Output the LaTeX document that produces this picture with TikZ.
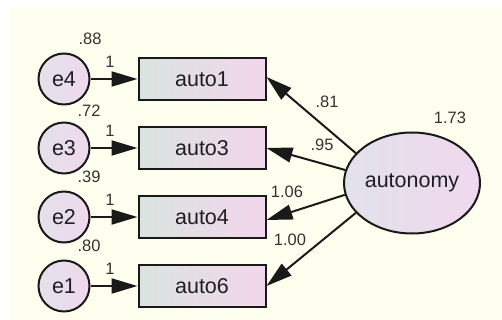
\documentclass[tikz,border=0pt]{standalone}
\usepackage{fontspec}
\setmainfont{Liberation Sans}
\usetikzlibrary{arrows.meta,shapes.geometric}
\definecolor{bgcream}{HTML}{FFFFF0}
\definecolor{boxleft}{HTML}{DAE4DF}
\definecolor{boxright}{HTML}{F2D6EC}
\definecolor{elleft}{HTML}{E2E2EA}
\definecolor{elright}{HTML}{F0D8EE}
\definecolor{txt}{HTML}{1E1E24}
\definecolor{lbl}{HTML}{333333}
\tikzset{
  obsbox/.style={draw=black!90, line width=2pt, left color=boxleft, right color=boxright,
    minimum width=127pt, minimum height=42pt, inner sep=0pt, font=\fontsize{21.5}{23}\selectfont, text=txt},
  errc/.style={circle, draw=black!90, line width=2pt, left color=elleft, right color=elright,
    minimum size=51pt, inner sep=0pt, font=\fontsize{21.5}{23}\selectfont, text=txt},
  latent/.style={ellipse, draw=black!90, line width=2pt, left color=elleft, right color=elright,
    minimum width=136pt, minimum height=101pt, inner sep=0pt, font=\fontsize{21.5}{23}\selectfont, text=txt},
  pathline/.style={draw=black!90, line width=2pt, -{Triangle[length=26pt,width=15pt]}},
  lab/.style={font=\fontsize{16.5}{18}\selectfont, text=lbl, inner sep=0pt}
}
\begin{document}
\begin{tikzpicture}[x=1pt,y=-1pt]
\useasboundingbox (0,0) rectangle (502,320);
\fill[white] (0,0) rectangle (502,320);
\fill[bgcream] (10,7) rectangle (502,320);

\node[obsbox] (a1) at (202,79) {auto1};
\node[obsbox] (a3) at (202,148) {auto3};
\node[obsbox] (a4) at (202,217) {auto4};
\node[obsbox] (a6) at (202,286) {auto6};

\node[errc] (e4) at (64,79) {e4};
\node[errc] (e3) at (64,148) {e3};
\node[errc] (e2) at (64,217) {e2};
\node[errc] (e1) at (64,286) {e1};

\node[latent] (au) at (412,183) {autonomy};

\draw[pathline] (e4.east) -- (a1.west);
\draw[pathline] (e3.east) -- (a3.west);
\draw[pathline] (e2.east) -- (a4.west);
\draw[pathline] (e1.east) -- (a6.west);

\draw[pathline] (au.152) -- ([yshift=2pt]a1.east);
\draw[pathline] (au.169) -- (a3.east);
\draw[pathline] (au.190) -- ([yshift=-3pt]a4.east);
\draw[pathline] (au.208) -- (a6.east);

\node[lab] (v4) at (90,39) {.88};
\node[lab] (v3) at (89,111) {.72};
\node[lab] (v2) at (89,177) {.39};
\node[lab] (v1) at (89,246) {.80};
\node[lab] (w4) at (110,62) {1};
\node[lab] (w3) at (110,131) {1};
\node[lab] (w2) at (110,200) {1};
\node[lab] (w1) at (110,269) {1};
\node[lab] (r1) at (327,102) {.81};
\node[lab] (r3) at (322,145) {.95};
\node[lab] (r4) at (287,192) {1.06};
\node[lab] (r6) at (290,240) {1.00};
\node[lab] (va) at (450,118) {1.73};
\end{tikzpicture}
\end{document}
